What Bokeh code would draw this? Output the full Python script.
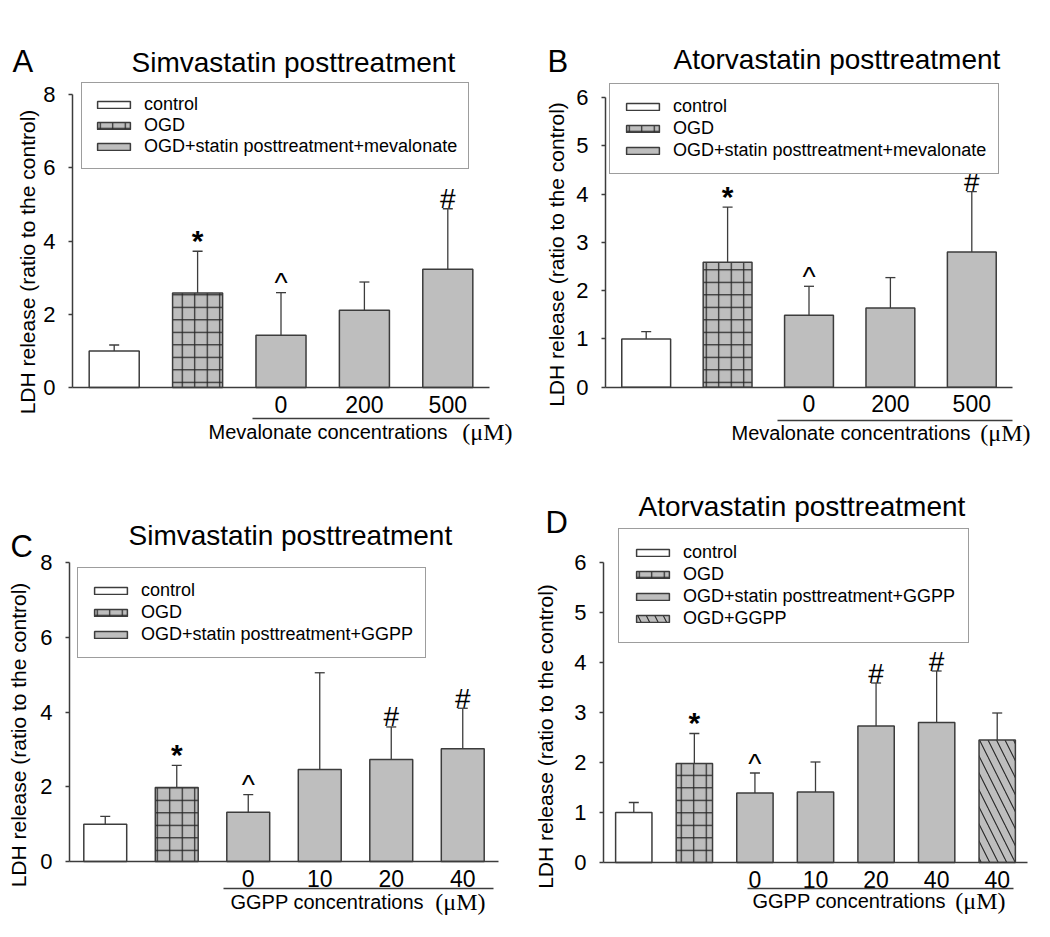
import math
from bokeh.plotting import figure
from bokeh.models import (FixedTicker, LinearAxis, Range1d, Legend, LegendItem,
                          Label, Whisker, TeeHead, ColumnDataSource)
from bokeh.layouts import gridplot
from bokeh.embed import file_html
from bokeh.resources import INLINE
from bokeh.core.properties import value

FONT = "Liberation Sans"
SERIF = "Liberation Serif"
EDGE = "#3c3c3c"
GRAY = "#bebebe"

# ---------------- data ----------------
ylabel = "LDH release (ratio to the control)"
yticks_8 = [0, 2, 4, 6, 8]
yticks_6 = [0, 1, 2, 3, 4, 5, 6]

# Panel A: Simvastatin + mevalonate
a_groups = ["control", "OGD", "statin", "statin", "statin"]
a_vals = [1.00, 2.58, 1.43, 2.11, 3.23]
a_errs = [1.16, 3.72, 2.59, 2.88, 4.88]
a_ticks = ["", "", "0", "200", "500"]
a_marks = ["", "*", "^", "", "#"]
a_legend = ["control", "OGD", "OGD+statin posttreatment+mevalonate"]

# Panel B: Atorvastatin + mevalonate
b_groups = ["control", "OGD", "statin", "statin", "statin"]
b_vals = [1.00, 2.59, 1.49, 1.64, 2.80]
b_errs = [1.15, 3.73, 2.09, 2.27, 4.05]
b_ticks = ["", "", "0", "200", "500"]
b_marks = ["", "*", "^", "", "#"]
b_legend = ["control", "OGD", "OGD+statin posttreatment+mevalonate"]

# Panel C: Simvastatin + GGPP
c_groups = ["control", "OGD", "statin", "statin", "statin", "statin"]
c_vals = [1.00, 1.98, 1.32, 2.46, 2.73, 3.02]
c_errs = [1.21, 2.57, 1.79, 5.05, 3.60, 4.10]
c_ticks = ["", "", "0", "10", "20", "40"]
c_marks = ["", "*", "^", "", "#", "#"]
c_legend = ["control", "OGD", "OGD+statin posttreatment+GGPP"]

# Panel D: Atorvastatin + GGPP
d_groups = ["control", "OGD", "statin", "statin", "statin", "statin", "ggpp"]
d_vals = [1.00, 1.98, 1.39, 1.41, 2.73, 2.80, 2.45]
d_errs = [1.20, 2.58, 1.79, 2.01, 3.59, 3.83, 2.99]
d_ticks = ["", "", "0", "10", "20", "40", "40"]
d_marks = ["", "*", "^", "", "#", "#", ""]
d_legend = ["control", "OGD", "OGD+statin posttreatment+GGPP", "OGD+GGPP"]

STYLES = {
    "control": dict(fill_color="white"),
    "OGD": dict(fill_color=GRAY, hatch_pattern="+", hatch_color="#262626",
                hatch_scale=12.5, hatch_weight=1.2),
    "statin": dict(fill_color=GRAY),
    "ggpp": dict(fill_color=GRAY, hatch_pattern="\\", hatch_color="#262626",
                 hatch_scale=17, hatch_weight=1.1),
}

BASE_FIX = 11  # text baseline correction (px)


def make_panel(groups, vals, errs, ticks, marks, legend_labels, conc_text,
               yticks, fig, left_px, right_px, y0_px, ytop_px, conc_px,
               conc_bounds, conc_pos, legend_box, legend_pad, legend_spacing,
               legend_fs, ylab_pos, ytick_standoff, title, title_pos, letter,
               letter_pos):
    fx, fy, W, H = fig
    n = len(vals)
    ymax = yticks[-1]
    ppx = (right_px - left_px) / n
    x_start = -0.5 - (left_px - fx) / ppx
    x_end = n - 0.5 + (fx + W - right_px) / ppx
    ppu = (y0_px - ytop_px) / ymax
    y_end = (y0_px - fy) / ppu
    y_start = -(fy + H - y0_px) / ppu

    def sx(px):
        return px - fx

    def sy(py, fix=BASE_FIX):
        return fy + H - py + fix

    p = figure(width=W, height=H, output_backend="svg", toolbar_location=None,
               x_range=Range1d(x_start, x_end), y_range=Range1d(y_start, y_end),
               min_border=0, x_axis_location=None, y_axis_location=None)
    p.outline_line_color = None
    p.xgrid.visible = False
    p.ygrid.visible = False
    p.background_fill_color = "white"
    p.border_fill_color = "white"

    # bars per group (legend order)
    order = []
    for g in groups:
        if g not in order:
            order.append(g)
    renderers = {}
    for g in order:
        idx = [i for i, gg in enumerate(groups) if gg == g]
        src = ColumnDataSource(dict(x=idx, top=[vals[i] for i in idx]))
        r = p.vbar(x="x", top="top", bottom=0, width=0.6, source=src,
                   line_color=EDGE, line_width=1.5, **STYLES[g])
        renderers[g] = r

    # error bars (upper only)
    esrc = ColumnDataSource(dict(x=list(range(n)), v=vals, e=errs))
    wk = Whisker(base="x", lower="v", upper="e", source=esrc,
                 line_color=EDGE, line_width=1.3, lower_head=None,
                 upper_head=TeeHead(size=10, line_color=EDGE, line_width=1.3),
                 level="overlay")
    p.add_layout(wk)

    # significance marks
    star_x = [i for i, m in enumerate(marks) if m == "*"]
    p.text(x=star_x, y=[errs[i] for i in star_x], text=["*"] * len(star_x),
           text_align="center", text_baseline="alphabetic", y_offset=-11,
           text_font=value(FONT), text_font_size="30px",
           text_font_style="bold", text_color="black")
    oth_x = [i for i, m in enumerate(marks) if m in ("^", "#")]
    p.text(x=oth_x, y=[errs[i] for i in oth_x], text=[marks[i] for i in oth_x],
           text_align="center", text_baseline="alphabetic", y_offset=-10,
           text_font=value(FONT), text_font_size="28px", text_color="black")

    # y axis (fixed at left edge of the bar area)
    yax = LinearAxis(fixed_location=-0.5, bounds=(0, ymax),
                     ticker=FixedTicker(ticks=yticks),
                     major_label_text_font=FONT, major_label_text_font_size="22px",
                     major_label_text_color="black",
                     major_label_standoff=ytick_standoff,
                     major_tick_out=4, major_tick_in=0, minor_tick_out=0,
                     minor_tick_in=0, axis_line_color=EDGE, axis_line_width=1.5,
                     major_tick_line_color=EDGE, major_tick_line_width=1.5)
    p.add_layout(yax, "left")
    p.add_layout(Label(x=sx(ylab_pos[0]), y=sy(ylab_pos[1], 0), x_units="screen",
                       y_units="screen", text=ylabel, angle=math.pi / 2,
                       text_font=FONT, text_font_size="21px", text_color="black",
                       text_align="center", text_baseline="middle"))

    # x axis with concentration labels
    tick_idx = [i for i, t in enumerate(ticks) if t]
    xax = LinearAxis(fixed_location=0, bounds=(-0.5, n - 0.5),
                     ticker=FixedTicker(ticks=tick_idx),
                     major_label_overrides={i: ticks[i] for i in tick_idx},
                     major_label_text_font=FONT, major_label_text_font_size="23px",
                     major_label_text_color="black", major_label_standoff=8,
                     major_tick_out=0, major_tick_in=0, minor_tick_out=0,
                     minor_tick_in=0, axis_line_color=EDGE, axis_line_width=1.5)
    p.add_layout(xax, "below")

    conc_y = -(conc_px - y0_px) / ppu
    ax2 = LinearAxis(fixed_location=conc_y, ticker=FixedTicker(ticks=[]),
                     bounds=conc_bounds,
                     major_tick_out=0, major_tick_in=0, minor_tick_out=0,
                     minor_tick_in=0, major_label_standoff=0,
                     axis_line_color=EDGE, axis_line_width=1.5)
    p.add_layout(ax2, "below")
    # "<substance> concentrations" in sans, "(μM)" in serif
    p.add_layout(Label(x=sx(conc_pos[0]), y=sy(conc_pos[2]), x_units="screen",
                       y_units="screen", text=conc_text[0], text_font=FONT,
                       text_font_size="20px", text_color="black",
                       text_baseline="alphabetic", text_align="left"))
    p.add_layout(Label(x=sx(conc_pos[1]), y=sy(conc_pos[2]), x_units="screen",
                       y_units="screen", text=conc_text[1], text_font=SERIF,
                       text_font_size="24px", text_color="black",
                       text_baseline="alphabetic", text_align="right"))

    # legend
    items = [LegendItem(label=lab, renderers=[renderers[g]])
             for lab, g in zip(legend_labels, order)]
    leg = Legend(items=items,
                 location=(sx(legend_box[0]), fy + H - legend_box[1]),
                 glyph_width=41, glyph_height=9, label_height=20,
                 spacing=legend_spacing, padding=legend_pad, margin=0,
                 label_standoff=10, label_text_font=FONT,
                 label_text_font_size=legend_fs, label_text_color="black",
                 border_line_color=EDGE, border_line_width=1.5,
                 background_fill_color="white", background_fill_alpha=1.0)
    p.add_layout(leg)

    # title and panel letter
    p.add_layout(Label(x=sx(title_pos[0]), y=sy(title_pos[1]),
                       x_units="screen", y_units="screen", text=title,
                       text_font=FONT, text_font_size="28px", text_color="black",
                       text_baseline="alphabetic", text_align="left"))
    p.add_layout(Label(x=sx(letter_pos[0]), y=sy(letter_pos[1]),
                       x_units="screen", y_units="screen", text=letter,
                       text_font=FONT, text_font_size="31px", text_color="black",
                       text_baseline="alphabetic", text_align="left"))
    return p


MEV = ("Mevalonate concentrations", "(\u03bcM)")
GGPP = ("GGPP concentrations", "(\u03bcM)")

# figure boxes (x, y, width, height) on the page
pA = make_panel(a_groups, a_vals, a_errs, a_ticks, a_marks, a_legend, MEV,
                yticks_8, (0, 0, 524, 468), 72, 489, 387, 94, 418, (1.66, 4.5),
                (208, 512, 442), (81, 169), 11, 0, "18px", (27, 261.5), 13,
                "Simvastatin posttreatment", (131, 73), "A", (12, 72))
pB = make_panel(b_groups, b_vals, b_errs, b_ticks, b_marks, b_legend, MEV,
                yticks_6, (524, 0, 524, 468), 605, 1012, 386.7, 97, 420,
                (1.61, 4.5), (731, 1030, 443), (609, 174), 12, 1, "18px",
                (556, 254), 13, "Atorvastatin posttreatment", (673, 70), "B",
                (547, 72))
pC = make_panel(c_groups, c_vals, c_errs, c_ticks, c_marks, c_legend, GGPP,
                yticks_8, (0, 468, 524, 467), 69, 498, 861, 562, 888,
                (1.66, 5.43), (230, 485, 912), (77, 658), 12, 1, "18px",
                (18, 734.5), 13, "Simvastatin posttreatment", (128, 546), "C",
                (10, 557))
pD = make_panel(d_groups, d_vals, d_errs, d_ticks, d_marks, d_legend, GGPP,
                yticks_6, (524, 468, 524, 467), 603, 1027, 862, 562, 888,
                (1.88, 6.27), (752, 1005, 911), (618, 643), 13, 1, "18px",
                (545, 736), 13, "Atorvastatin posttreatment", (638, 517), "D",
                (545, 533))

grid = gridplot([[pA, pB], [pC, pD]], toolbar_location=None)
open("out.html", "w").write(file_html(grid, INLINE))
